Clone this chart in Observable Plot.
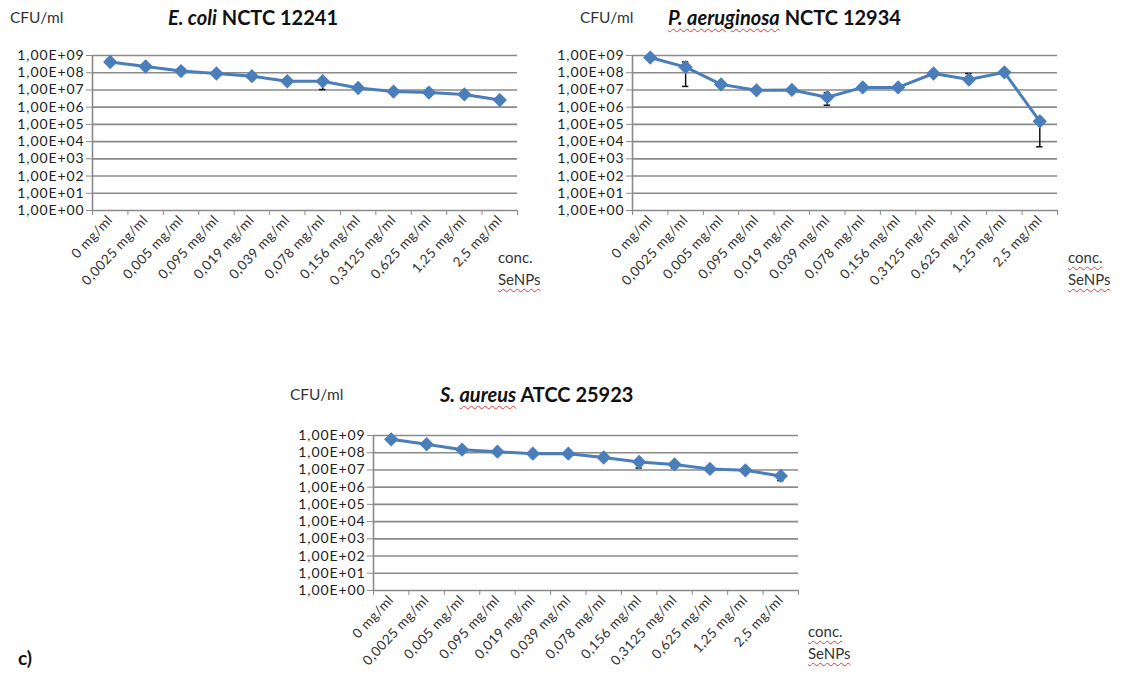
<!DOCTYPE html>
<html>
<head>
<meta charset="utf-8">
<script src="https://cdn.jsdelivr.net/npm/d3@7"></script>
<script src="https://cdn.jsdelivr.net/npm/@observablehq/plot@0.6"></script>
<style>
  body { margin: 0; background: #fff; width: 1131px; height: 681px; position: relative; overflow: hidden; font-family: Lato, "Open Sans", sans-serif; }
  .abs { position: absolute; white-space: nowrap; }
  .title { font-weight: bold; font-size: 20px; color: #111; }
  .cfu { font-size: 15.5px; color: #333; }
  .conc { font-size: 15px; color: #333; line-height: 22px; }
  .wavy { text-decoration: underline wavy #e03a3a; text-decoration-thickness: 1px; text-underline-offset: 3px; }
  .panel svg { max-width: none; }
  .panel g[aria-label="y-axis tick label"] text { letter-spacing: 0.9px; }
  .panel g[aria-label="x-axis tick label"] text { letter-spacing: 0.5px; }
</style>
</head>
<body>
<div id="p1" class="abs panel" style="left:0px;top:0px"></div>
<div id="p2" class="abs panel" style="left:540px;top:0px"></div>
<div id="p3" class="abs panel" style="left:281px;top:380px"></div>

<div class="abs cfu" style="left:10px;top:8px">CFU/ml</div>
<div class="abs title" style="left:168px;top:5px"><i>E. coli</i> NCTC 12241</div>
<div class="abs conc" style="left:498px;top:246px">conc.<br><span class="wavy">SeNPs</span></div>

<div class="abs cfu" style="left:580px;top:8px">CFU/ml</div>
<div class="abs title" style="left:668px;top:5px"><i class="wavy">P. aeruginosa</i> NCTC 12934</div>
<div class="abs conc" style="left:1068px;top:246px"><span class="wavy">conc.</span><br><span class="wavy">SeNPs</span></div>

<div class="abs cfu" style="left:290px;top:385px">CFU/ml</div>
<div class="abs title" style="left:440px;top:382px"><i>S. <span class="wavy">aureus</span></i> ATCC 25923</div>
<div class="abs conc" style="left:808px;top:620px"><span class="wavy">conc.</span><br><span class="wavy">SeNPs</span></div>

<div class="abs" style="left:18px;top:646px;font-weight:bold;font-size:19px;color:#111">c)</div>

<script>
const categories = ["0 mg/ml", "0,0025 mg/ml", "0,005 mg/ml", "0,095 mg/ml", "0,019 mg/ml", "0,039 mg/ml",
  "0,078 mg/ml", "0,156 mg/ml", "0,3125 mg/ml", "0,625 mg/ml", "1,25 mg/ml", "2,5 mg/ml"];
const yTicks = [1, 1e1, 1e2, 1e3, 1e4, 1e5, 1e6, 1e7, 1e8, 1e9];
const yTickLabels = ["1,00E+00", "1,00E+01", "1,00E+02", "1,00E+03", "1,00E+04", "1,00E+05", "1,00E+06", "1,00E+07", "1,00E+08", "1,00E+09"];

// E. coli NCTC 12241
const ecoli     = [4.2e8, 2.3e8, 1.25e8, 9e7, 6.3e7, 3.2e7, 3.2e7, 1.3e7, 8e6, 7e6, 5.5e6, 2.6e6];
const ecoliLow  = [3.6e8, 1.55e8, 1.1e8, 8e7, 5.6e7, 2.8e7, 1.05e7, 1.15e7, 7e6, 6.2e6, 4.9e6, 2e6];
const ecoliHigh = [6.5e8, 2.8e8, 1.4e8, 1e8, 7e7, 3.6e7, 3.8e7, 1.45e7, 9e6, 7.8e6, 6.2e6, 3.3e6];

// P. aeruginosa NCTC 12934
const paer     = [7.6e8, 2.1e8, 2.1e7, 9.5e6, 1e7, 3.8e6, 1.4e7, 1.4e7, 9e7, 4e7, 1.05e8, 1.5e5];
const paerLow  = [6.8e8, 1.6e7, 1.8e7, 8.5e6, 9e6, 1.3e6, 1.25e7, 1.25e7, 8e7, 3.5e7, 9e7, 5e3];
const paerHigh = [8.5e8, 4.2e8, 2.4e7, 1.05e7, 1.1e7, 7e6, 1.6e7, 1.6e7, 1.1e8, 9e7, 1.2e8, 2.6e5];

// S. aureus ATCC 25923
const saur     = [6e8, 3.1e8, 1.5e8, 1.15e8, 8.8e7, 8.8e7, 5.3e7, 2.9e7, 2.1e7, 1.15e7, 9.5e6, 4.5e6];
const saurLow  = [5.4e8, 2.8e8, 1.35e8, 1.05e8, 8e7, 8e7, 4.8e7, 1.3e7, 1.3e7, 1.05e7, 8.6e6, 2.4e6];
const saurHigh = [6.6e8, 3.4e8, 1.65e8, 1.25e8, 9.6e7, 9.6e7, 5.8e7, 3.2e7, 2.3e7, 1.25e7, 1.05e7, 5.5e6];

const gridColor = "#8a8a8a";
const lineColor = "#4a7ebb";

function panel(values, low, high) {
  const data = categories.map((c, i) => ({i, c, v: values[i], lo: low[i], hi: high[i]}));
  const boundaries = d3.range(categories.length + 1).map(k => k - 0.5);
  return Plot.plot({
    width: 560, height: 300,
    marginLeft: 92, marginRight: 43, marginTop: 55, marginBottom: 90,
    style: {background: "transparent", overflow: "visible", fontFamily: "Lato, 'Open Sans', sans-serif", fontSize: "12px", color: "#333"},
    x: {type: "linear", domain: [-0.5, categories.length - 0.5], axis: null},
    y: {type: "log", domain: [1, 1e9], axis: null},
    marks: [
      Plot.ruleY(yTicks, {stroke: gridColor, strokeWidth: 1.6}),
      Plot.ruleX([-0.5], {stroke: gridColor, strokeWidth: 1.6}),
      Plot.axisY({ticks: yTicks, tickFormat: d => yTickLabels[yTicks.indexOf(d)], tickSize: 6, tickPadding: 2, stroke: gridColor, fill: "#222", fontSize: 14, label: null}),
      Plot.axisX({ticks: boundaries, tickFormat: () => "", tickSize: 5, stroke: gridColor, label: null}),
      Plot.axisX({ticks: d3.range(categories.length), tickFormat: i => categories[i], tickSize: 0, tickPadding: 7, tickRotate: -47, fill: "#333", fontSize: 13.5, label: null}),
      Plot.ruleX(data, {x: "i", y1: "lo", y2: "hi", stroke: "#111", strokeWidth: 1.5}),
      Plot.ruleY(data, {y: "lo", x1: d => d.i - 0.09, x2: d => d.i + 0.09, stroke: "#111", strokeWidth: 1.5}),
      Plot.ruleY(data, {y: "hi", x1: d => d.i - 0.09, x2: d => d.i + 0.09, stroke: "#111", strokeWidth: 1.5}),
      Plot.line(data, {x: "i", y: "v", stroke: lineColor, strokeWidth: 3}),
      Plot.dot(data, {x: "i", y: "v", symbol: "diamond2", r: 5.5, fill: lineColor, stroke: lineColor})
    ]
  });
}

document.getElementById("p1").appendChild(panel(ecoli, ecoliLow, ecoliHigh));
document.getElementById("p2").appendChild(panel(paer, paerLow, paerHigh));
document.getElementById("p3").appendChild(panel(saur, saurLow, saurHigh));
</script>
</body>
</html>
